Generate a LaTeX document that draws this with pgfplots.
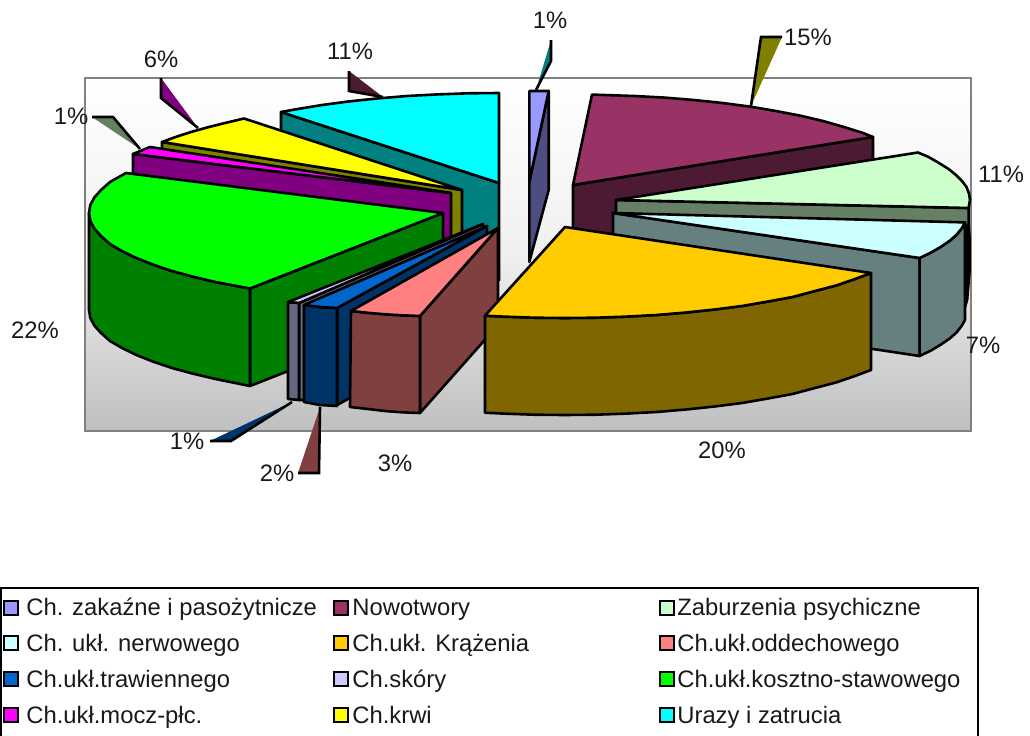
\documentclass[border=0pt]{standalone}
\usepackage{pgfplots}
\pgfplotsset{compat=1.18}
\usepackage{fontspec}
\setmainfont{Liberation Sans}

% pie drawn in the pixel coordinates of the picture, 2 px = 1 pt
\pgfplotsset{
  face/.style={draw=black, line width=1.3pt, line join=round, fill=#1},
  tip/.style={fill=#1, draw=none},
  lead/.style={draw=black, line width=1.3pt, line join=miter},
  swatch/.style={draw=black, line width=1pt, fill=#1},
}
\tikzset{
  pct/.style={anchor=base, inner sep=0pt, font=\fontsize{11.9}{13}\selectfont, text=black!90},
  key/.style={anchor=base west, inner sep=0pt, font=\fontsize{11.9}{13}\selectfont, text=black!90},
}
\definecolor{zakT}{HTML}{9999FF}\definecolor{zakS}{HTML}{4D4D80}
\definecolor{nowT}{HTML}{993366}\definecolor{nowS}{HTML}{4D1A33}
\definecolor{zabT}{HTML}{CCFFCC}\definecolor{zabS}{HTML}{668066}
\definecolor{nerT}{HTML}{CCFFFF}\definecolor{nerS}{HTML}{668080}
\definecolor{kraT}{HTML}{FFCC00}\definecolor{kraS}{HTML}{806600}
\definecolor{oddT}{HTML}{FF8080}\definecolor{oddS}{HTML}{804040}
\definecolor{traT}{HTML}{0066CC}\definecolor{traS}{HTML}{003366}
\definecolor{skoT}{HTML}{CCCCFF}\definecolor{skoS}{HTML}{666680}
\definecolor{kosT}{HTML}{00FF00}\definecolor{kosS}{HTML}{008000}
\definecolor{mocT}{HTML}{FF00FF}\definecolor{mocS}{HTML}{800080}
\definecolor{krwT}{HTML}{FFFF00}\definecolor{krwS}{HTML}{808000}
\definecolor{uraT}{HTML}{00FFFF}\definecolor{uraS}{HTML}{008080}

\begin{document}
\begin{tikzpicture}
\path[use as bounding box] (0,0) rectangle (515pt,367.5pt);
\begin{axis}[at={(0,0)}, anchor=south west, scale only axis,
  width=515pt, height=367.5pt, hide axis,
  xmin=0, xmax=1030, ymin=0, ymax=735, y dir=reverse,
  enlargelimits=false]

% plot area
\addplot[top color=white, bottom color=black!25, middle color=black!6,
  draw=black!50, line width=1.2pt]
  coordinates {(85,78) (971,78) (971,431) (85,431)} -- cycle;

% leader lines of the labels
\addplot[tip=uraS] coordinates {(551,40) (551,61) (536,90)} -- cycle;
\addplot[lead] coordinates {(551,40) (551,61) (536,90)};
\addplot[tip=krwS] coordinates {(782,37) (761,37) (751,106)} -- cycle;
\addplot[lead] coordinates {(782,37) (761,37) (751,106)};
\addplot[tip=mocS] coordinates {(161,78) (161,98) (198,128)} -- cycle;
\addplot[lead] coordinates {(161,78) (161,98) (198,128)};
\addplot[tip=zabS] coordinates {(92,117) (113,117) (140,149)} -- cycle;
\addplot[lead] coordinates {(92,117) (113,117) (140,149)};
\addplot[tip=nowS] coordinates {(349,71) (349,91) (383,97)} -- cycle;
\addplot[lead] coordinates {(349,71) (349,91) (383,97)};
\addplot[tip=traS] coordinates {(210,441) (231,441) (292,402)} -- cycle;
\addplot[lead] coordinates {(210,441) (231,441) (292,402)};
\addplot[tip=oddS] coordinates {(298,473) (319,473) (320,407)} -- cycle;
\addplot[lead] coordinates {(298,473) (319,473) (320,407)};

% Urazy i zatrucia
\addplot[face=uraS] coordinates {(281,112) (499,183) (499,280) (281,209)} -- cycle;
\addplot[face=uraT] coordinates {(499,183) (499,93) (468,93.3) (437.5,94.4) (407,96) (378,98.4) (349,101.4) (322,105) (296,109.3) (281,112)} -- cycle;
% Ch.krwi
\addplot[face=krwS] coordinates {(162,142) (462,190) (462,287) (162,239)} -- cycle;
\addplot[face=krwT] coordinates {(162,142) (175.6,137) (191,132) (207,127.5) (225,123) (244,118.5) (462,190)} -- cycle;
% Ch.ukl.mocz-plc.
\addplot[face=mocS] coordinates {(133,154) (451,193) (451,290) (133,251)} -- cycle;
\addplot[face=mocT] coordinates {(133,154) (150,147) (451,193)} -- cycle;
% Ch.ukl.kosztno-stawowego
\addplot[face=kosS] coordinates {(250,288.5) (443,213) (443,310) (250,386)} -- cycle;
\addplot[face=kosS] coordinates {(89,213) (90.3,221) (94.4,228.6) (101,236) (110,244) (122,251) (136.4,258) (153,264.6) (172,271) (192.7,276.6) (215.5,282) (250,288.5) (250,386) (215.5,379) (192.7,373.6) (172,368) (153,361.6) (136.4,355) (122,348) (110,341) (101,333) (94.4,325.6) (90.3,318) (89,310)} -- cycle;
\addplot[face=kosT] coordinates {(443,213) (126,173) (110,182) (101,190) (94.4,197.4) (90.3,205) (89,213) (90.3,221) (94.4,228.6) (101,236) (110,244) (122,251) (136.4,258) (153,264.6) (172,271) (192.7,276.6) (215.5,282) (250,288.5)} -- cycle;
% Ch.skory
\addplot[face=skoS] coordinates {(299,303) (483,224) (483,321) (304,400) (299,400)} -- cycle;
\addplot[face=skoS] coordinates {(288,302) (299,303) (299,400) (288,399)} -- cycle;
\addplot[face=skoT] coordinates {(288,302) (299,303) (483,224)} -- cycle;
% Ch.ukl.trawiennego
\addplot[face=traS] coordinates {(337,308) (487,226) (487,323) (337,405)} -- cycle;
\addplot[face=traS] coordinates {(304,305) (320,307) (337,308) (337,406) (320,405) (304,402)} -- cycle;
\addplot[face=traT] coordinates {(304,305) (320,307) (337,308) (487,226)} -- cycle;
% Ch.ukl.oddechowego
\addplot[face=oddS] coordinates {(498,228) (420,316) (420,413) (498,325)} -- cycle;
\addplot[face=oddS] coordinates {(351,311) (368,312.8) (385,314.3) (402,315.3) (420,316) (420,413) (402,412.3) (385,411) (368,409) (350,407)} -- cycle;
\addplot[face=oddT] coordinates {(498,228) (420,316) (402,315.3) (385,314.3) (368,312.8) (351,311)} -- cycle;

% Ch. zakazne i pasozytnicze
\addplot[face=zakS] coordinates {(548.7,91) (548.7,190) (529.3,262) (529.3,182)} -- cycle;
\addplot[face=zakT] coordinates {(529.3,91) (548.7,91) (529.3,182)} -- cycle;
% Nowotwory
\addplot[face=nowS] coordinates {(573,185) (873,137) (873,234) (573,282)} -- cycle;
\addplot[face=nowT] coordinates {(573,185) (592,94.6) (634.5,96) (664.6,97.6) (694,100) (722.6,103) (750,106.6) (776,111) (800.5,115.7) (823,121) (844,127) (863,133) (873,137)} -- cycle;
% Zaburzenia psychiczne
\addplot[fill=black, draw=black] coordinates {(969,215) (970.5,240) (970.5,270) (968,300) (965,310) (963,215)} -- cycle;
\addplot[face=zabS] coordinates {(616,200) (968.6,208) (968.6,225) (616,225)} -- cycle;
\addplot[face=zabT] coordinates {(616,200) (918,152.5) (928.6,157) (939,163) (948.6,169) (956,175) (962,181) (966.5,187) (969,193.6) (970,200) (968.6,208)} -- cycle;
% Ch. ukl. nerwowego
\addplot[face=nerS] coordinates {(613,213) (919.6,258) (919.6,356) (613,310)} -- cycle;
\addplot[face=nerS] coordinates {(919.6,258) (931,252.5) (941,246.7) (949.7,240.8) (956.5,234.8) (961.6,228.6) (965,222.4) (965,320) (961.6,326) (956.5,332.5) (949.7,338.5) (941,344.5) (931,350.5) (919.6,356)} -- cycle;
\addplot[face=nerT] coordinates {(613,213) (965,222.4) (961.6,228.6) (956.5,234.8) (949.7,240.8) (941,246.7) (931,252.5) (919.6,258)} -- cycle;
% Ch.ukl. Krazenia
\addplot[face=kraS] coordinates {(485,315.7) (503.5,316.6) (534,317.7) (565,318) (596,317.7) (626.5,316.6) (656.6,315) (686,312.5) (714.6,309.5) (742,306) (768,301.5) (792.5,297) (815,291) (836,285.5) (855,279) (871,273) (871,370) (855,376) (836,382.5) (815,388) (792.5,394) (768,398.5) (742,403) (714.6,406.5) (686,409.5) (656.6,412) (626.5,413.6) (596,414.7) (565,415) (534,414.7) (503.5,413.6) (485,412.7)} -- cycle;
\addplot[face=kraT] coordinates {(565,227) (871,273) (855,279) (836,285.5) (815,291) (792.5,297) (768,301.5) (742,306) (714.6,309.5) (686,312.5) (656.6,315) (626.5,316.6) (596,317.7) (565,318) (534,317.7) (503.5,316.6) (485,315.7)} -- cycle;

% legend frame and keys
\addplot[draw=black, line width=1pt] coordinates {(1,588) (978,588) (978,740) (1,740)} -- cycle;
\addplot[swatch=zakT] coordinates {(4,601) (18,601) (18,615) (4,615)} -- cycle;
\addplot[swatch=nerT] coordinates {(4,636) (18,636) (18,650) (4,650)} -- cycle;
\addplot[swatch=traT] coordinates {(4,672) (18,672) (18,686) (4,686)} -- cycle;
\addplot[swatch=mocT] coordinates {(4,708) (18,708) (18,722) (4,722)} -- cycle;
\addplot[swatch=nowT] coordinates {(334,601) (348,601) (348,615) (334,615)} -- cycle;
\addplot[swatch=kraT] coordinates {(334,636) (348,636) (348,650) (334,650)} -- cycle;
\addplot[swatch=skoT] coordinates {(334,672) (348,672) (348,686) (334,686)} -- cycle;
\addplot[swatch=krwT] coordinates {(334,708) (348,708) (348,722) (334,722)} -- cycle;
\addplot[swatch=zabT] coordinates {(660,601) (674,601) (674,615) (660,615)} -- cycle;
\addplot[swatch=oddT] coordinates {(660,636) (674,636) (674,650) (660,650)} -- cycle;
\addplot[swatch=kosT] coordinates {(660,672) (674,672) (674,686) (660,686)} -- cycle;
\addplot[swatch=uraT] coordinates {(660,708) (674,708) (674,722) (660,722)} -- cycle;

% percentage labels
\node[pct] at (axis cs:550,28) {1\%};
\node[pct] at (axis cs:808,45) {15\%};
\node[pct] at (axis cs:1001,182) {11\%};
\node[pct] at (axis cs:983,353) {7\%};
\node[pct] at (axis cs:722,458) {20\%};
\node[pct] at (axis cs:395,471) {3\%};
\node[pct] at (axis cs:277,481) {2\%};
\node[pct] at (axis cs:187,449) {1\%};
\node[pct] at (axis cs:35,338) {22\%};
\node[pct] at (axis cs:71,124) {1\%};
\node[pct] at (axis cs:161,67) {6\%};
\node[pct] at (axis cs:350,59) {11\%};

% legend texts
\node[key] at (axis cs:26,615) {Ch. zakaźne i pasożytnicze};
\node[key] at (axis cs:26,651) {Ch. ukł. nerwowego};
\node[key] at (axis cs:26,687) {Ch.ukł.trawiennego};
\node[key] at (axis cs:26,723) {Ch.ukł.mocz-płc.};
\node[key] at (axis cs:352,615) {Nowotwory};
\node[key] at (axis cs:352,651) {Ch.ukł. Krążenia};
\node[key] at (axis cs:352,687) {Ch.skóry};
\node[key] at (axis cs:352,723) {Ch.krwi};
\node[key] at (axis cs:677,615) {Zaburzenia psychiczne};
\node[key] at (axis cs:677,651) {Ch.ukł.oddechowego};
\node[key] at (axis cs:677,687) {Ch.ukł.kosztno-stawowego};
\node[key] at (axis cs:677,723) {Urazy i zatrucia};
\end{axis}
\end{tikzpicture}
\end{document}
